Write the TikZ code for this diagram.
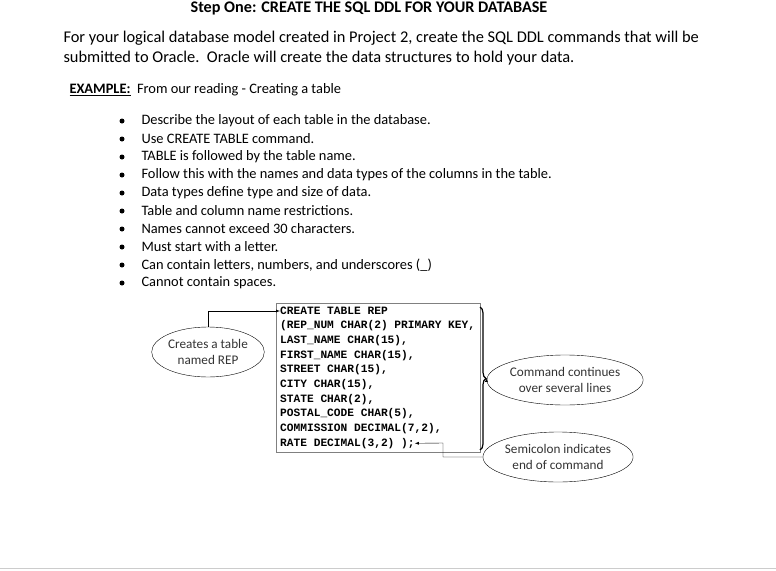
\documentclass[tikz,border=0pt]{standalone}
\usepackage{fontspec}
\setmainfont{Carlito}
\newfontfamily\codefont{Liberation Mono}
\usetikzlibrary{decorations.pathreplacing,shapes.geometric}
\tikzset{
  note/.style={draw,ellipse,minimum width=104pt,minimum height=50pt,align=center,inner sep=0pt,font=\fontsize{13.2}{16}\selectfont,text=black!80},
  bul/.style={anchor=west,font=\fontsize{14.4}{17}\selectfont},
  code/.style={anchor=west,font=\codefont\bfseries\fontsize{11.2}{13}\selectfont,text=black,inner sep=0pt},
  pt/.style={-latex,thin,black}
}
\begin{document}
\begin{tikzpicture}[x=1pt,y=-1pt]
\useasboundingbox (0,0) rectangle (776,570);

\node (title) at (369,8) {\fontsize{16.2}{18}\selectfont\bfseries Step One: CREATE THE SQL DDL FOR YOUR DATABASE};
\node[anchor=west,font=\fontsize{16.4}{19}\selectfont] (p1) at (60,38) {For your logical database model created in Project 2, create the SQL DDL commands that will be};
\node[anchor=west,font=\fontsize{16.4}{19}\selectfont] (p2) at (60,58) {submitted to Oracle.\ \ Oracle will create the data structures to hold your data.};
\node[bul] (ex) at (66,90) {\textbf{\underline{EXAMPLE:}}\ \ From our reading - Creating a table};

\foreach \t [count=\i from 0] in {Describe the layout of each table in the database.,
  Use CREATE TABLE command.,
  TABLE is followed by the table name.,
  Follow this with the names and data types of the columns in the table.,
  Data types define type and size of data.,
  Table and column name restrictions.,
  Names cannot exceed 30 characters.,
  Must start with a letter.,
  {Can contain letters, numbers, and underscores (\_)},
  Cannot contain spaces.}
{
  \fill (122,121+18*\i) circle (2.5);
  \node[bul] (b\i) at (138,121+18*\i) {\t};
}

% code box
\draw[gray] (276,303) rectangle (480,452);
\foreach \c [count=\i from 0] in {CREATE TABLE REP,
  (REP\_NUM CHAR(2) PRIMARY KEY{,},
  LAST\_NAME CHAR(15){,},
  FIRST\_NAME CHAR(15){,},
  STREET CHAR(15){,},
  CITY CHAR(15){,},
  STATE CHAR(2){,},
  POSTAL\_CODE CHAR(5){,},
  COMMISSION DECIMAL(7{,}2){,},
  RATE DECIMAL(3{,}2) );}
  \node[code] (c\i) at (280,311+14.7*\i) {\c};

\draw[decorate,decoration={brace,amplitude=6pt},line width=1.2pt] (480,307) -- (480,450);
\coordinate (tip) at (487,378);

\node[note] (n1) at (208,352) {Creates a table\\named REP};
\node[note,minimum width=110pt] (n2) at (565,380) {Command continues\\over several lines};
\node[note,minimum width=114pt] (n3) at (558,457) {Semicolon indicates\\end of command};

\draw[pt] (n1.north) |- (c0.west);
\draw[pt] (n2.west) -- (tip);
\draw[pt] (n3.west) -- (443,457) -- (443,443) -- (c9.east);

\draw[gray!40] (0,568) -- (776,568);
\end{tikzpicture}
\end{document}
